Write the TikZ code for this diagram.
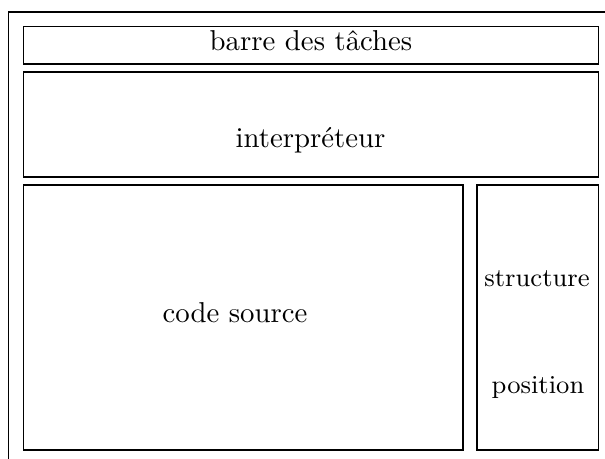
\documentclass[tikz,border=0pt]{standalone}
\usepackage{fontspec}
\begin{document}
\begin{tikzpicture}[x=0.3477pt,y=-0.3477pt,
  box/.style={draw,line width=0.4pt},
  lbl/.style={anchor=base,inner sep=0pt},
  slbl/.style={lbl,font=\small}]
\useasboundingbox (0,0) rectangle (605,458);
\clip (0,0) rectangle (605,458);
\draw[box] (8.5,12) rectangle (640,480);
\draw[box] (23.5,26.5) coordinate (b1) rectangle (598.5,64) coordinate (b2);
\draw[box] (23.5,72) coordinate (i1) rectangle (598.5,177) coordinate (i2);
\draw[box] (23.5,185) coordinate (c1) rectangle (463,450) coordinate (c2);
\draw[box] (477,185) coordinate (r1) rectangle (598.5,450) coordinate (r2);
\node[lbl] (tb) at (311,51) {barre des tâches};
\node[lbl] (ti) at (310.5,148) {interpréteur};
\node[lbl] (tc) at (235,322) {code source};
\node[slbl] (ts) at (537,286) {structure};
\node[slbl] (tp) at (538,393) {position};
\end{tikzpicture}
\end{document}
